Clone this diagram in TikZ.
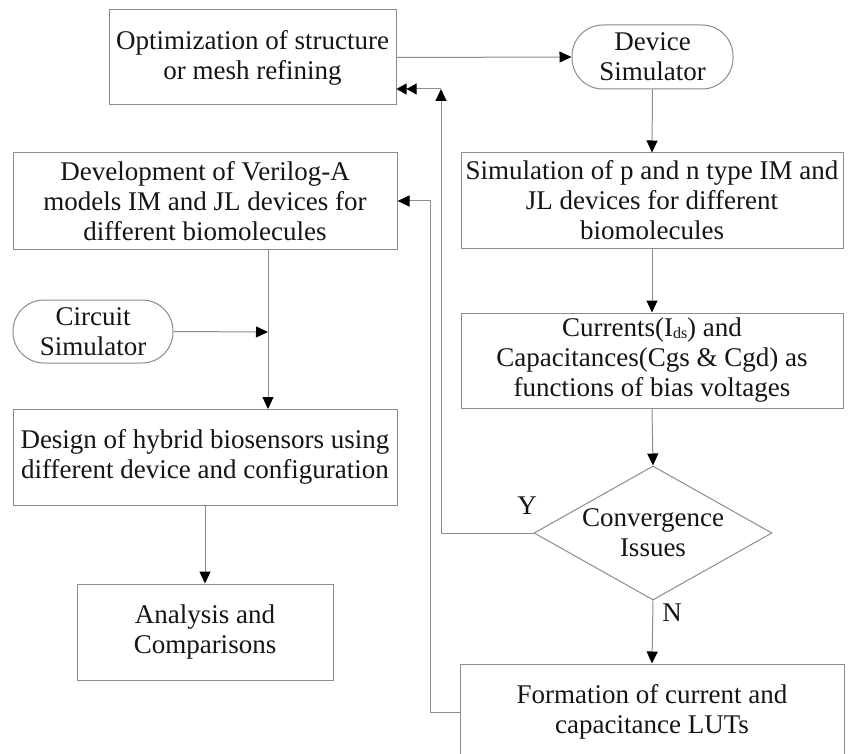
\documentclass[tikz,border=0pt]{standalone}
\usepackage{fontspec}
\setmainfont{Liberation Serif}
\usetikzlibrary{arrows.meta,shapes.geometric}
\definecolor{linegray}{HTML}{8C8C8C}
\definecolor{inkc}{HTML}{151515}
\tikzset{
  boxnode/.style={draw=linegray, line width=1pt, rectangle, align=center, inner sep=0pt, text=inkc, font=\fontsize{27}{30}\selectfont},
  termnode/.style={boxnode, rounded corners=31pt},
  decnode/.style={draw=linegray, line width=1pt, diamond, aspect=1.776, inner sep=0pt, align=center, text=inkc, font=\fontsize{27}{30}\selectfont},
  conn/.style={draw=linegray, line width=1pt},
  arr/.style={conn, -{Triangle[length=12pt,width=11pt,color=black]}},
  darr/.style={conn, -{Triangle[length=10pt,width=11pt,color=black]Triangle[length=10pt,width=11pt,color=black]}},
  lbl/.style={text=inkc, font=\fontsize{27}{30}\selectfont, inner sep=0pt}
}
\begin{document}
\begin{tikzpicture}[x=1pt,y=-1pt]
\useasboundingbox (0,0) rectangle (851,754);
\clip (0,0) rectangle (851,754);
\fill[white] (0,0) rectangle (851,754);
% right column
\node[boxnode, minimum width=287pt, minimum height=95pt] (opt) at (252.5,57.5) {Optimization of structure\\or mesh refining};
\node[termnode, minimum width=161pt, minimum height=64pt] (dev) at (652.5,57) {Device\\Simulator};
\node[boxnode, minimum width=382pt, minimum height=95pt] (sim) at (652,200.5) {Simulation of p and n type IM and\\JL devices for different\\biomolecules};
\node[boxnode, minimum width=382pt, minimum height=95pt] (cur) at (652,360.5) {Currents(I{\fontsize{16}{16}\selectfont\raisebox{-1.5pt}{ds}}) and\\Capacitances(Cgs \& Cgd) as\\functions of bias voltages};
\node[decnode, minimum width=238pt, minimum height=134pt] (dia) at (653,533) {Convergence\\Issues};
\node[boxnode, minimum width=384pt, minimum height=96pt] (form) at (652,712) {Formation of current and\\capacitance LUTs};
% left column
\node[boxnode, minimum width=384pt, minimum height=96pt] (ver) at (205,201) {Development of Verilog-A\\models IM and JL devices for\\different biomolecules};
\node[termnode, minimum width=160pt, minimum height=63pt] (cir) at (93,331.5) {Circuit\\Simulator};
\node[boxnode, minimum width=384pt, minimum height=96pt] (des) at (205,457) {Design of hybrid biosensors using\\different device and configuration};
\node[boxnode, minimum width=256pt, minimum height=96pt] (ana) at (205,632) {Analysis and\\Comparisons};
% labels
\node[lbl] (ylab) at (527,506) {Y};
\node[lbl] (nlab) at (672,613) {N};
% helper coordinates
\coordinate (yc) at (441,533);
\coordinate (yt) at (441,89);
\coordinate (fc) at (430,712);
\coordinate (ft) at (430,201);
\coordinate (vb) at (268,249);
\coordinate (dt) at (268,409);
\coordinate (cj) at (268,332);
% connectors
\draw[arr] (opt.east) -- (dev.west);
\draw[arr] (dev.south) -- (sim.north);
\draw[arr] (sim.south) -- (cur.north);
\draw[arr] (cur.south) -- (dia.north);
\draw[arr] (dia.south) -- (form.north);
\draw[arr] (dia.west) -- (yc) -- (yt);
\draw[darr] (yt) -- (opt.east |- yt);
\draw[arr] (form.west |- fc) -- (fc) -- (ft) -- (ver.east |- ft);
\draw[arr] (vb) -- (dt);
\draw[arr] (cir.east) -- (cj);
\draw[arr] (des.south) -- (ana.north);
\end{tikzpicture}
\end{document}
